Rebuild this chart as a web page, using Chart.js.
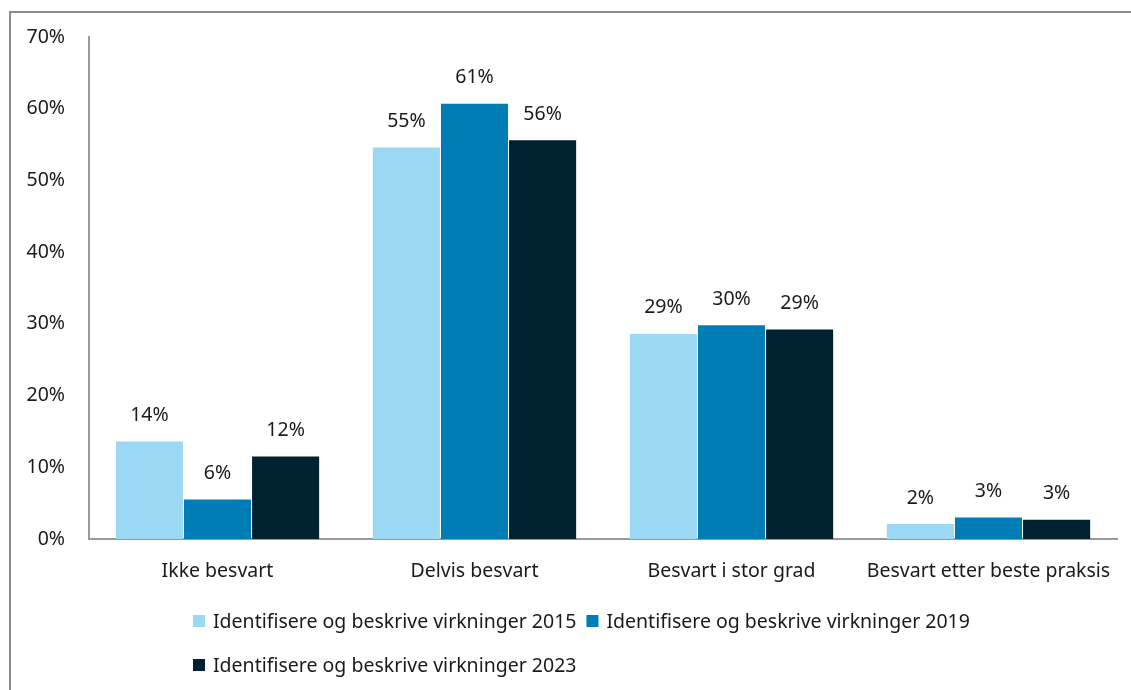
<!DOCTYPE html>
<html lang="no">
<head>
  <meta charset="UTF-8" />
  <title>Virkninger</title>
  <script src="https://cdn.jsdelivr.net/npm/chart.js"></script>
  <style>
    html, body { margin: 0; padding: 0; background: #fff; overflow: hidden; }
    .frame {
      position: absolute; left: 9px; top: 11px; width: 1200px; height: 760px;
      border-left: 2px solid #8c8c8c; border-top: 2px solid #8c8c8c;
    }
    .wrap { position: absolute; left: 0; top: 0; width: 1131px; height: 690px; }
  </style>
</head>
<body>
  <div class="frame"></div>
  <div class="wrap"><canvas id="chart" width="1131" height="690"></canvas></div>

  <script>
    const categories = ["Ikke besvart", "Delvis besvart", "Besvart i stor grad", "Besvart etter beste praksis"];
    const seriesNames = [
      "Identifisere og beskrive virkninger 2015",
      "Identifisere og beskrive virkninger 2019",
      "Identifisere og beskrive virkninger 2023"
    ];
    const values2015 = [13.6, 54.6, 28.6, 2.1];
    const values2019 = [5.5, 60.7, 29.8, 3.0];
    const values2023 = [11.5, 55.6, 29.2, 2.7];
    const yTicks = [0, 10, 20, 30, 40, 50, 60, 70];

    const colors = ["#9bd8f3", "#007db5", "#00212f"];
    const FONT = "'Noto Sans', sans-serif";
    const SIZE = 19.5;
    const TEXT = "#1a1a1a";

    // percentage labels above every bar
    const barLabels = {
      id: "barLabels",
      afterDatasetsDraw(chart) {
        const ctx = chart.ctx;
        ctx.save();
        ctx.font = SIZE + "px " + FONT;
        ctx.fillStyle = TEXT;
        ctx.textAlign = "center";
        ctx.textBaseline = "middle";
        chart.data.datasets.forEach((ds, i) => {
          chart.getDatasetMeta(i).data.forEach((bar, j) => {
            ctx.fillText(Math.round(ds.data[j]) + "%", bar.x, bar.y - 26);
          });
        });
        ctx.restore();
      }
    };

    // legend rows, left aligned under the plot
    const legendRows = {
      id: "legendRows",
      afterDraw(chart) {
        const ctx = chart.ctx;
        ctx.save();
        ctx.font = SIZE + "px " + FONT;
        ctx.textBaseline = "middle";
        ctx.textAlign = "left";
        const startX = 193, maxX = chart.chartArea.right;
        let x = startX, y = 621;
        chart.data.datasets.forEach((ds) => {
          const w = 12 + 8 + ctx.measureText(ds.label).width;
          if (x > startX && x + w > maxX) { x = startX; y += 44; }
          ctx.fillStyle = ds.backgroundColor;
          ctx.fillRect(x, y - 6, 12, 12);
          ctx.fillStyle = TEXT;
          ctx.fillText(ds.label, x + 20, y + 1);
          x += w + 10;
        });
        ctx.restore();
      }
    };

    new Chart(document.getElementById("chart"), {
      type: "bar",
      data: {
        labels: categories,
        datasets: [
          { label: seriesNames[0], data: values2015, backgroundColor: colors[0] },
          { label: seriesNames[1], data: values2019, backgroundColor: colors[1] },
          { label: seriesNames[2], data: values2023, backgroundColor: colors[2] }
        ]
      },
      options: {
        responsive: false,
        animation: false,
        layout: { padding: { left: 10, top: 37, right: 14, bottom: 0 } },
        datasets: { bar: { categoryPercentage: 0.795, barPercentage: 0.985 } },
        plugins: { legend: { display: false }, tooltip: { enabled: false } },
        scales: {
          x: {
            grid: { display: false, drawTicks: false },
            border: { display: true, color: "#999", width: 2 },
            ticks: { color: TEXT, font: { family: FONT, size: SIZE }, padding: 21, maxRotation: 0 },
            afterFit: s => { s.height = 151; s.paddingLeft = 0; s.paddingRight = 0; }
          },
          y: {
            min: 0, max: 70,
            afterBuildTicks: s => { s.ticks = yTicks.map(v => ({ value: v })); },
            grid: { display: false, drawTicks: false },
            border: { display: true, color: "#999", width: 2 },
            ticks: { color: TEXT, font: { family: FONT, size: SIZE }, padding: 24, callback: v => v + "%" },
            afterFit: s => { s.width = 79; }
          }
        }
      },
      plugins: [barLabels, legendRows]
    });
  </script>
</body>
</html>
